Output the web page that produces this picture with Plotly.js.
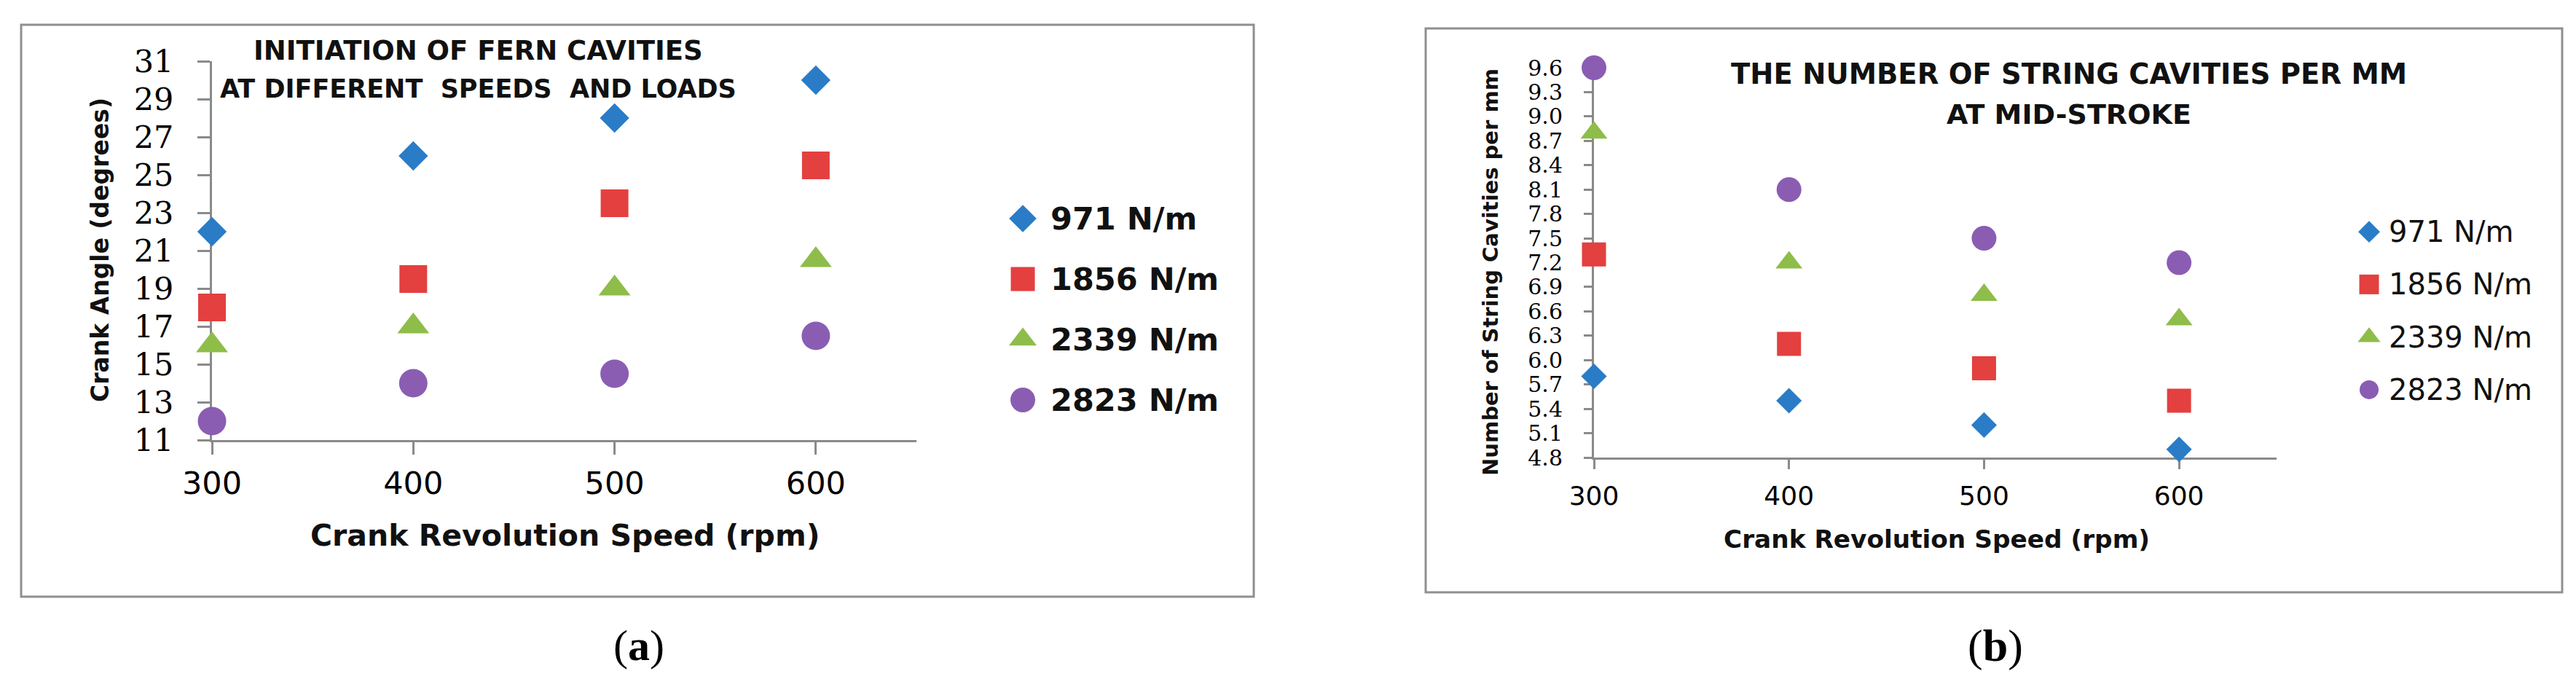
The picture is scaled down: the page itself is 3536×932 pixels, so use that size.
<!DOCTYPE html>
<html>
<head>
<meta charset="utf-8">
<script src="https://cdn.plot.ly/plotly-3.0.1.min.js"></script>
<style>
html,body{margin:0;padding:0;background:#fff;}
#chart{width:3536px;height:932px;}
</style>
</head>
<body>
<div id="chart"></div>
<script>
// ---------- data ----------
const speeds = [300, 400, 500, 600];
const seriesNames = ['971 N/m', '1856 N/m', '2339 N/m', '2823 N/m'];

// (a) crank angle at initiation of fern cavities (degrees)
const angle971  = [22, 26, 28, 30];
const angle1856 = [18, 19.5, 23.5, 25.5];
const angle2339 = [16, 17, 19, 20.5];
const angle2823 = [12, 14, 14.5, 16.5];

// (b) number of string cavities per mm at mid-stroke
const cav971  = [5.8, 5.5, 5.2, 4.9];
const cav1856 = [7.3, 6.2, 5.9, 5.5];
const cav2339 = [8.8, 7.2, 6.8, 6.5];
const cav2823 = [9.6, 8.1, 7.5, 7.2];

const xTickVals = [300, 400, 500, 600];
const yTicksA = [11, 13, 15, 17, 19, 21, 23, 25, 27, 29, 31];
const yTicksB = ['4.8','5.1','5.4','5.7','6.0','6.3','6.6','6.9','7.2','7.5','7.8','8.1','8.4','8.7','9.0','9.3','9.6'];

// ---------- style ----------
const W = 3536, H = 932;
const colors = ['#2a7cc7', '#e3403f', '#8ebd4a', '#8a5db3'];
const symbols = ['diamond', 'square', 'triangle-up', 'circle'];
const sizeA = [31, 38, 38, 39];
const sizeB = [27, 33, 32, 34];
const legSizeA = [29, 33, 33, 34];
const legSizeB = [23, 27, 27, 26];
const SANS = 'DejaVu Sans, Verdana, sans-serif';
const SERIF = 'DejaVu Serif, Liberation Serif, serif';
const px = x => x / W;
const py = y => 1 - y / H;

const seriesA = [angle971, angle1856, angle2339, angle2823];
const seriesB = [cav971, cav1856, cav2339, cav2823];

const traces = [];
seriesA.forEach((vals, i) => traces.push({
  type: 'scatter', mode: 'markers', x: speeds, y: vals, name: seriesNames[i],
  xaxis: 'x', yaxis: 'y', cliponaxis: false, showlegend: false,
  marker: {symbol: symbols[i], color: colors[i], size: sizeA[i], line: {width: 0}}
}));
seriesB.forEach((vals, i) => traces.push({
  type: 'scatter', mode: 'markers', x: speeds, y: vals, name: seriesNames[i],
  xaxis: 'x2', yaxis: 'y2', cliponaxis: false, showlegend: false,
  marker: {symbol: symbols[i], color: colors[i], size: sizeB[i], line: {width: 0}}
}));
// legend symbols (drawn as traces so they can be as large as in the original)
seriesNames.forEach((nm, i) => traces.push({
  type: 'scatter', mode: 'markers', x: [0], y: [i], name: nm,
  cliponaxis: false, showlegend: false, xaxis: 'x3', yaxis: 'y3', hoverinfo: 'skip',
  marker: {symbol: symbols[i], color: colors[i], size: legSizeA[i]}
}));
seriesNames.forEach((nm, i) => traces.push({
  type: 'scatter', mode: 'markers', x: [0], y: [i], name: nm,
  cliponaxis: false, showlegend: false, xaxis: 'x4', yaxis: 'y4', hoverinfo: 'skip',
  marker: {symbol: symbols[i], color: colors[i], size: legSizeB[i]}
}));

const axBase = {
  showgrid: false, zeroline: false, showline: true, linecolor: '#8a8a8a', linewidth: 3,
  ticks: 'outside', tickcolor: '#8a8a8a', tickwidth: 3, layer: 'below traces', fixedrange: true
};
const hiddenAx = {visible: false, showgrid: false, zeroline: false, fixedrange: true};

const ann = [
  // panel (a)
  {text: 'INITIATION OF FERN CAVITIES', x: px(656), y: py(70),
   font: {family: SANS, size: 37, color: '#111', weight: 'bold'}},
  {text: 'AT DIFFERENT\u00a0\u00a0SPEEDS\u00a0\u00a0AND LOADS', x: px(656), y: py(122),
   font: {family: SANS, size: 35, color: '#111', weight: 'bold'}},
  {text: 'Crank Revolution Speed (rpm)', x: px(775), y: py(735),
   font: {family: SANS, size: 41, color: '#111', weight: 'bold'}},
  {text: 'Crank Angle (degrees)', x: px(137), y: py(343), textangle: -90,
   font: {family: SANS, size: 33, color: '#111', weight: 'bold'}},
  {text: '(<b>a</b>)', x: px(877), y: py(886),
   font: {family: 'Liberation Serif, serif', size: 60, color: '#000'}},
  // panel (b)
  {text: 'THE NUMBER OF STRING CAVITIES PER MM', x: px(2840), y: py(102),
   font: {family: SANS, size: 38.5, color: '#111', weight: 'bold'}},
  {text: 'AT MID-STROKE', x: px(2840), y: py(157),
   font: {family: SANS, size: 38, color: '#111', weight: 'bold'}},
  {text: 'Crank Revolution Speed (rpm)', x: px(2658), y: py(740),
   font: {family: SANS, size: 34.3, color: '#111', weight: 'bold'}},
  {text: 'Number of String Cavities per mm', x: px(2046), y: py(374), textangle: -90,
   font: {family: SANS, size: 29, color: '#111', weight: 'bold'}},
  {text: '(<b>b</b>)', x: px(2739), y: py(886),
   font: {family: 'Liberation Serif, serif', size: 62, color: '#000'}}
].map(a => Object.assign({xref: 'paper', yref: 'paper', showarrow: false, xanchor: 'center', yanchor: 'middle'}, a));

// legend labels
seriesNames.forEach((nm, i) => ann.push({
  text: nm, xref: 'x3', yref: 'y3', x: 0.12, y: i, showarrow: false, xanchor: 'left', yanchor: 'middle',
  font: {family: SANS, size: 43, color: '#111', weight: 'bold'}
}));
seriesNames.forEach((nm, i) => ann.push({
  text: nm, xref: 'x4', yref: 'y4', x: 0.1, y: i, showarrow: false, xanchor: 'left', yanchor: 'middle',
  font: {family: SANS, size: 40, color: '#111'}
}));

const layout = {
  width: W, height: H,
  margin: {l: 0, r: 0, t: 0, b: 0},
  paper_bgcolor: '#ffffff', plot_bgcolor: 'rgba(0,0,0,0)',
  showlegend: false,
  xaxis: Object.assign({}, axBase, {
    domain: [px(291), px(1258)], range: [300, 650], anchor: 'y',
    tickmode: 'array', tickvals: xTickVals, ticktext: xTickVals.map(String),
    ticklen: 17, ticklabelstandoff: 2,
    tickfont: {family: SANS, size: 43, color: '#000'}
  }),
  yaxis: Object.assign({}, axBase, {
    domain: [py(604), py(84)], range: [11, 31], anchor: 'x',
    tickmode: 'array', tickvals: yTicksA, ticktext: yTicksA.map(String),
    ticklen: 17, ticklabelstandoff: 24,
    tickfont: {family: SERIF, size: 43, color: '#000'}
  }),
  xaxis2: Object.assign({}, axBase, {
    domain: [px(2188), px(3125)], range: [300, 650], anchor: 'y2',
    tickmode: 'array', tickvals: xTickVals, ticktext: xTickVals.map(String),
    ticklen: 13, ticklabelstandoff: 6,
    tickfont: {family: SANS, size: 36, color: '#000'}
  }),
  yaxis2: Object.assign({}, axBase, {
    domain: [py(628), py(93)], range: [4.8, 9.6], anchor: 'x2',
    tickmode: 'array', tickvals: yTicksB.map(Number), ticktext: yTicksB,
    ticklen: 11, ticklabelstandoff: 23,
    tickfont: {family: SERIF, size: 30, color: '#000'}
  }),
  xaxis3: Object.assign({}, hiddenAx, {domain: [px(1404), px(1704)], range: [0, 1], anchor: 'y3'}),
  yaxis3: Object.assign({}, hiddenAx, {domain: [py(590.5), py(258.5)], range: [3.5, -0.5], anchor: 'x3'}),
  xaxis4: Object.assign({}, hiddenAx, {domain: [px(3252), px(3500)], range: [0, 1], anchor: 'y4'}),
  yaxis4: Object.assign({}, hiddenAx, {domain: [py(571), py(282)], range: [3.5, -0.5], anchor: 'x4'}),
  shapes: [
    {type: 'rect', xref: 'paper', yref: 'paper', x0: px(29), x1: px(1721), y0: py(819), y1: py(34),
     line: {color: '#8f8f8f', width: 3}, fillcolor: 'rgba(0,0,0,0)', layer: 'below'},
    {type: 'rect', xref: 'paper', yref: 'paper', x0: px(1957), x1: px(3517), y0: py(813), y1: py(39),
     line: {color: '#8f8f8f', width: 3}, fillcolor: 'rgba(0,0,0,0)', layer: 'below'}
  ],
  annotations: ann
};

Plotly.newPlot('chart', traces, layout, {staticPlot: true, displayModeBar: false});
</script>
</body>
</html>
